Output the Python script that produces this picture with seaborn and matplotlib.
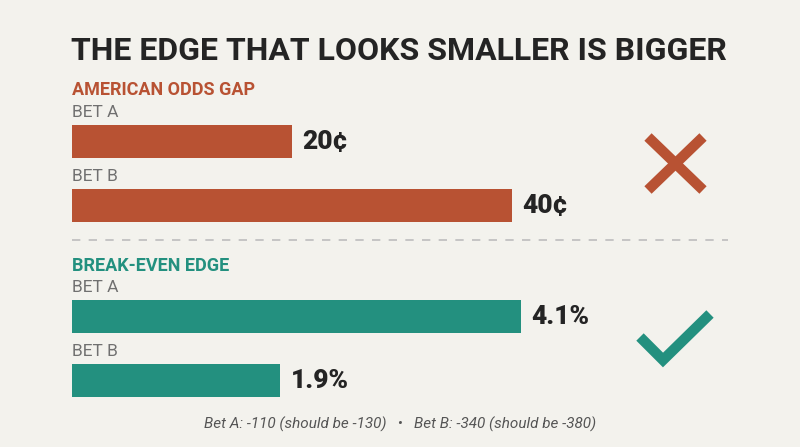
import matplotlib
matplotlib.use("Agg")
import matplotlib.pyplot as plt
import seaborn as sns
from matplotlib.lines import Line2D

# chart data
bets = ["BET A", "BET B"]
odds_gap_cents = [20, 40]
odds_gap_labels = ["20¢", "40¢"]
edge_pct = [4.1, 1.9]
edge_labels = ["4.1%", "1.9%"]

title = "THE EDGE THAT LOOKS SMALLER IS BIGGER"
top_header = "AMERICAN ODDS GAP"
bottom_header = "BREAK-EVEN EDGE"
footnote = "Bet A: -110 (should be -130)   \u2022   Bet B: -340 (should be -380)"

# colours
BG = "#f3f2ed"
ORANGE = "#b85233"
TEAL = "#23907f"
DARK = "#242424"
GREY = "#707070"

sns.set_theme(style="white")
plt.rcParams["font.family"] = ["Roboto", "DejaVu Sans"]

W, H = 800, 447
fig = plt.figure(figsize=(8, 4.47), dpi=100, facecolor=BG)


def fx(x):
    return x / W


def fy(y):
    return 1 - y / H


def panel(top_px, values, labels, color, xmax):
    # axes spans 128 px high: two bar slots of 64 px
    ax = fig.add_axes([fx(72), fy(top_px + 128), fx(728), 128 / H])
    ax.set_facecolor("none")
    sns.barplot(x=values, y=bets, orient="h", color=color, width=0.52,
                saturation=1, linewidth=0, ax=ax)
    ax.set_xlim(0, xmax)
    ax.set_ylim(1.5, -0.5)
    ax.bar_label(ax.containers[0], labels=labels, padding=7.5,
                 fontsize=19, fontweight="black", color=DARK)
    for i, name in enumerate(bets):
        ax.text(0, i - 0.26 - 0.12, name, fontsize=12.5, color=GREY,
                fontweight="normal", va="baseline", ha="left")
    ax.set_xticks([])
    ax.set_yticks([])
    ax.set_xlabel("")
    ax.set_ylabel("")
    sns.despine(ax=ax, left=True, bottom=True)
    return ax


panel(109.5, odds_gap_cents, odds_gap_labels, ORANGE, 728 / 11.0)
panel(284.5, edge_pct, edge_labels, TEAL, 728 / 109.5)

# titles
fig.text(fx(71), fy(60), title, fontsize=23, fontweight="bold",
         color=DARK, va="baseline", ha="left")
fig.text(fx(72), fy(95), top_header, fontsize=13, fontweight="bold",
         color=ORANGE, va="baseline", ha="left")
fig.text(fx(72), fy(271), bottom_header, fontsize=13, fontweight="bold",
         color=TEAL, va="baseline", ha="left")

# dashed divider
fig.add_artist(Line2D([fx(72), fx(728)], [fy(240), fy(240)],
                      transform=fig.transFigure, color="#bdbdbd",
                      lw=1.2, dashes=(5, 5)))

# cross and tick icons
for xs, ys in [([648, 703], [137, 190]), ([648, 703], [190, 137])]:
    fig.add_artist(Line2D([fx(v) for v in xs], [fy(v) for v in ys],
                          transform=fig.transFigure, color=ORANGE,
                          lw=7.5, solid_capstyle="butt"))
fig.add_artist(Line2D([fx(640), fx(663), fx(710)],
                      [fy(337), fy(360), fy(314)],
                      transform=fig.transFigure, color=TEAL, lw=7.5,
                      solid_capstyle="butt", solid_joinstyle="miter"))

# footnote
fig.text(0.5, fy(424), footnote, fontsize=11, style="italic",
         color="#555555", va="center", ha="center")

fig.savefig("out.png", dpi=100, facecolor=BG)
